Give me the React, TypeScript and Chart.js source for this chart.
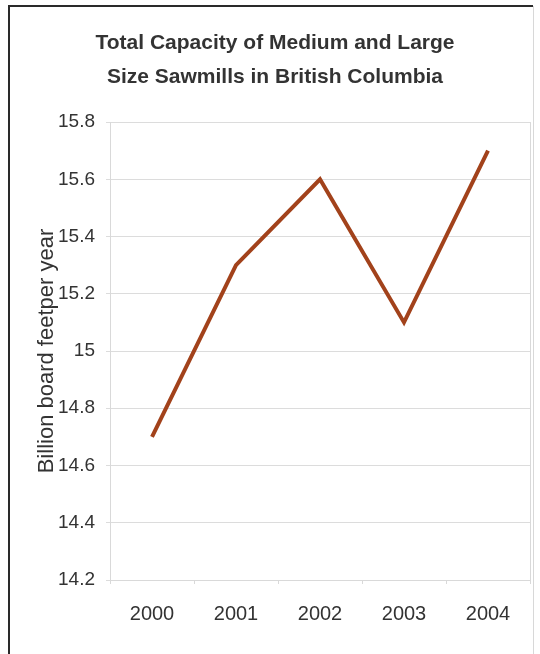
import React, { useEffect, useRef } from "react";
import { Chart, registerables } from "chart.js";

Chart.register(...registerables);

const years = ["2000", "2001", "2002", "2003", "2004"];
const capacity = [14.7, 15.3, 15.6, 15.1, 15.7];
const yMin = 14.2;
const yMax = 15.8;
const yStep = 0.2;
const titleLines = ["Total Capacity of Medium and Large", "Size Sawmills in British Columbia"];
const yTitle = "Billion board feetper year";

const FONT = "'Liberation Sans', Arial, Helvetica, sans-serif";

// Frame around the whole figure: darker on the left and top, faint on the right.
const framePlugin = {
  id: "frame",
  beforeDraw(chart: any) {
    const ctx = chart.ctx;
    ctx.save();
    ctx.fillStyle = "#ffffff";
    ctx.fillRect(0, 0, chart.width, chart.height);
    ctx.lineWidth = 2;
    ctx.strokeStyle = "#2a2a2a";
    ctx.beginPath();
    ctx.moveTo(9, chart.height);
    ctx.lineTo(9, 6);
    ctx.lineTo(533, 6);
    ctx.stroke();
    ctx.lineWidth = 1;
    ctx.strokeStyle = "#d8d8d8";
    ctx.beginPath();
    ctx.moveTo(533.5, 6);
    ctx.lineTo(533.5, chart.height);
    ctx.stroke();
    ctx.restore();
  },
  afterDraw(chart: any) {
    // right edge of the plot box
    const { ctx, chartArea } = chart;
    ctx.save();
    ctx.strokeStyle = "#d9d9d9";
    ctx.lineWidth = 1;
    ctx.beginPath();
    ctx.moveTo(Math.round(chartArea.right) + 0.5, chartArea.top);
    ctx.lineTo(Math.round(chartArea.right) + 0.5, chartArea.bottom);
    ctx.stroke();
    ctx.restore();
  },
};

export default function App() {
  const ref = useRef<HTMLCanvasElement | null>(null);

  useEffect(() => {
    document.body.style.margin = "0";
    if (!ref.current) return;
    const chart = new Chart(ref.current, {
      type: "line",
      data: {
        labels: years,
        datasets: [
          {
            data: capacity,
            borderColor: "#a2421b",
            borderWidth: 4,
            pointRadius: 0,
            tension: 0,
            fill: false,
          },
        ],
      },
      options: {
        responsive: false,
        animation: false,
        devicePixelRatio: 1,
        layout: { padding: { left: 20, right: 10, top: 26, bottom: 0 } },
        plugins: {
          legend: { display: false },
          tooltip: { enabled: false },
          title: {
            display: true,
            text: titleLines,
            color: "#333333",
            font: { family: FONT, size: 21, weight: "bold", lineHeight: 1.62 },
            padding: { top: 0, bottom: 28 },
          },
        },
        scales: {
          x: {
            offset: true,
            grid: {
              display: true,
              drawOnChartArea: false,
              color: "#d9d9d9",
              tickLength: 4,
              offset: true,
            },
            border: { color: "#d9d9d9" },
            ticks: {
              color: "#333333",
              font: { family: FONT, size: 20 },
              padding: 18,
              maxRotation: 0,
            },
            afterFit(scale: any) {
              scale.height = 74;
            },
          },
          y: {
            min: yMin,
            max: yMax,
            grid: { color: "#dcdcdc", tickLength: 4 },
            border: { color: "#d9d9d9" },
            ticks: {
              stepSize: yStep,
              color: "#333333",
              font: { family: FONT, size: 19 },
              padding: 11,
              callback: (v: any) => String(Math.round(Number(v) * 10) / 10),
            },
            title: {
              display: true,
              text: yTitle,
              color: "#333333",
              font: { family: FONT, size: 22 },
              padding: { top: 14, bottom: 0 },
            },
            afterFit(scale: any) {
              scale.width = 90;
            },
          },
        },
      },
      plugins: [framePlugin],
    });
    return () => chart.destroy();
  }, []);

  return (
    <div style={{ position: "absolute", left: 0, top: 0, width: 540, height: 654, background: "#fff" }}>
      <canvas ref={ref} width={540} height={654} style={{ display: "block", width: 540, height: 654 }} />
    </div>
  );
}
